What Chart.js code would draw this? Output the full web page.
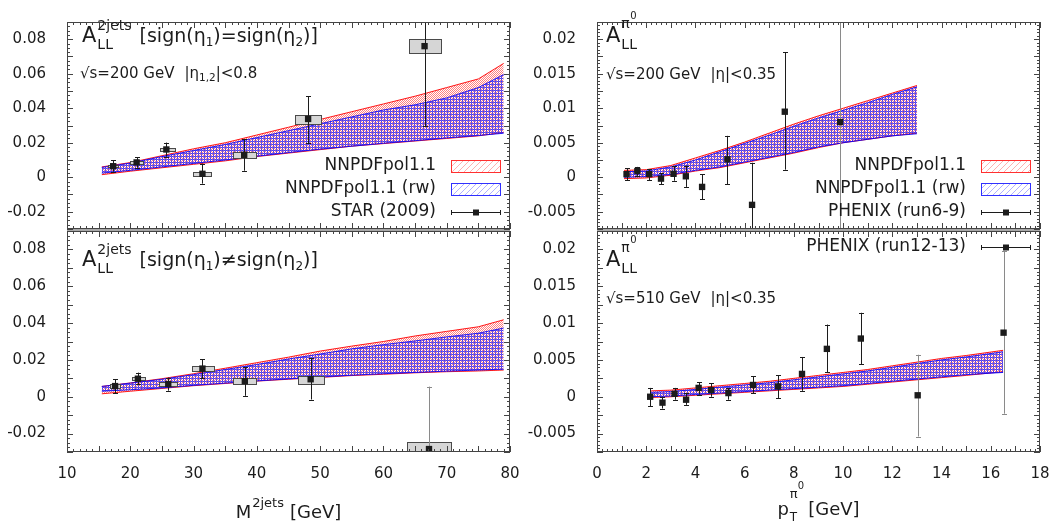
<!DOCTYPE html>
<html>
<head>
<meta charset="utf-8">
<title>A_LL dijets and pi0</title>
<script src="https://cdn.jsdelivr.net/npm/chart.js@4.4.1/dist/chart.umd.min.js"></script>
<style>
  body { margin: 0; background: #fff; }
  #wrap { position: relative; width: 1063px; height: 525px; }
  #wrap canvas { position: absolute; left: 0; top: 0; }
</style>
</head>
<body>
<div id="wrap">
  <canvas id="tl" width="1063" height="525"></canvas>
  <canvas id="bl" width="1063" height="525"></canvas>
  <canvas id="tr" width="1063" height="525"></canvas>
  <canvas id="br" width="1063" height="525"></canvas>
</div>
<script>
// ---- dijets, STAR 2009 ----
const mTicks = [10, 20, 30, 40, 50, 60, 70, 80];
const ljTicks = [-0.02, 0, 0.02, 0.04, 0.06, 0.08];
const ljBandM = [15.5, 20, 25, 30, 35, 40, 45, 50, 55, 60, 65, 70, 75, 79];

// same-sign (top left)
const tlM      = [17.3, 21.0, 25.7, 31.4, 38.0, 48.1, 66.5];
const tlA      = [0.0064, 0.0086, 0.0161, 0.0020, 0.0130, 0.0338, 0.0760];
const tlErrLo  = [0.0033, 0.0055, 0.0120, -0.0037, 0.0038, 0.0197, 0.0296];
const tlErrHi  = [0.0100, 0.0115, 0.0201, 0.0079, 0.0219, 0.0471, 0.1200];
const tlSysM0  = [16.5, 20.0, 24.7, 29.9, 36.2, 46.0, 64.0];
const tlSysM1  = [18.1, 22.0, 27.0, 32.8, 39.8, 50.2, 69.1];
const tlSysLo  = [0.0057, 0.0077, 0.0150, 0.0010, 0.0111, 0.0310, 0.0718];
const tlSysHi  = [0.0071, 0.0095, 0.0172, 0.0030, 0.0146, 0.0362, 0.0804];
const tlRedHi  = [0.0060, 0.0085, 0.0125, 0.0165, 0.0200, 0.0245, 0.0290, 0.0335, 0.0380, 0.0425, 0.0470, 0.0520, 0.0570, 0.0660];
const tlRedLo  = [0.0015, 0.0035, 0.0055, 0.0075, 0.0095, 0.0120, 0.0140, 0.0160, 0.0180, 0.0195, 0.0210, 0.0225, 0.0240, 0.0260];
const tlBlueHi = [0.0057, 0.0082, 0.0120, 0.0155, 0.0190, 0.0230, 0.0270, 0.0310, 0.0350, 0.0390, 0.0420, 0.0460, 0.0520, 0.0595];
const tlBlueLo = [0.0024, 0.0040, 0.0060, 0.0080, 0.0100, 0.0122, 0.0143, 0.0163, 0.0180, 0.0197, 0.0212, 0.0228, 0.0242, 0.0255];

// opposite-sign (bottom left)
const blM      = [17.6, 21.2, 26.0, 31.4, 38.1, 48.5, 67.2];
const blA      = [0.0058, 0.0098, 0.0069, 0.0153, 0.0085, 0.0095, -0.0284];
const blErrLo  = [0.0018, 0.0067, 0.0033, 0.0100, 0.0005, -0.0015, -0.0650];
const blErrHi  = [0.0096, 0.0131, 0.0104, 0.0204, 0.0160, 0.0209, 0.0055];
const blSysM0  = [16.8, 20.2, 24.6, 29.7, 36.3, 46.5, 63.8];
const blSysM1  = [18.4, 22.3, 27.4, 33.2, 39.8, 50.6, 70.7];
const blSysLo  = [0.0049, 0.0090, 0.0058, 0.0142, 0.0069, 0.0069, -0.0330];
const blSysHi  = [0.0067, 0.0106, 0.0080, 0.0166, 0.0104, 0.0113, -0.0247];
const blRedHi  = [0.0056, 0.0075, 0.0098, 0.0125, 0.0155, 0.0185, 0.0215, 0.0248, 0.0275, 0.0300, 0.0330, 0.0355, 0.0380, 0.0418];
const blRedLo  = [0.0016, 0.0030, 0.0045, 0.0060, 0.0072, 0.0085, 0.0095, 0.0105, 0.0115, 0.0122, 0.0130, 0.0136, 0.0140, 0.0145];
const blBlueHi = [0.0056, 0.0074, 0.0095, 0.0120, 0.0148, 0.0175, 0.0205, 0.0232, 0.0260, 0.0283, 0.0303, 0.0325, 0.0345, 0.0373];
const blBlueLo = [0.0030, 0.0038, 0.0048, 0.0062, 0.0074, 0.0086, 0.0097, 0.0107, 0.0117, 0.0125, 0.0132, 0.0139, 0.0145, 0.0150];

// ---- pi0, PHENIX ----
const ptTicks = [0, 2, 4, 6, 8, 10, 12, 14, 16, 18];
const piTicks = [-0.005, 0, 0.005, 0.01, 0.015, 0.02];

// run6-9, 200 GeV (top right)
const trPt     = [1.20, 1.64, 2.12, 2.60, 3.11, 3.61, 4.27, 5.30, 6.30, 7.63, 9.88];
const trA      = [0.00045, 0.0009, 0.00045, -0.0002, 0.0005, 0.00014, -0.0014, 0.0026, -0.0040, 0.0095, 0.0080];
const trErrLo  = [-0.0004, 0.0002, -0.0004, -0.0010, -0.0005, -0.0014, -0.0032, -0.0010, -0.0105, 0.0011, -0.0220];
const trErrHi  = [0.0013, 0.0015, 0.0012, 0.0006, 0.0016, 0.0017, 0.00045, 0.0060, 0.0021, 0.0181, 0.0380];
const trBandPt = [1.1, 2, 3, 4, 5, 6, 7, 8, 9, 10, 11, 12, 13];
const trRedHi  = [0.0010, 0.0011, 0.0017, 0.0028, 0.0039, 0.0051, 0.0064, 0.0077, 0.0089, 0.0100, 0.0111, 0.0122, 0.0133];
const trRedLo  = [-0.0002, -0.0001, 0.0003, 0.0009, 0.0014, 0.0021, 0.0028, 0.0035, 0.0043, 0.0050, 0.0055, 0.0060, 0.0064];
const trBlueHi = [0.0008, 0.0009, 0.0015, 0.0025, 0.0037, 0.0049, 0.0061, 0.0074, 0.0086, 0.0097, 0.0108, 0.0120, 0.0131];
const trBlueLo = [0.0000, 0.0001, 0.0004, 0.0010, 0.0015, 0.0022, 0.0029, 0.0036, 0.0044, 0.0050, 0.0055, 0.0060, 0.0063];

// run12-13, 510 GeV (bottom right)
const brPt     = [2.16, 2.66, 3.15, 3.62, 4.13, 4.64, 5.34, 6.34, 7.36, 8.33, 9.34, 10.72, 13.03, 16.52];
const brA      = [0.0000, -0.0008, 0.0004, -0.0004, 0.0012, 0.0009, 0.0005, 0.0016, 0.0014, 0.0031, 0.0065, 0.0079, 0.0002, 0.0087];
const brErrLo  = [-0.0013, -0.0016, -0.0004, -0.0011, 0.0003, 0.0000, -0.0004, 0.0005, -0.0002, 0.0008, 0.0033, 0.0044, -0.0054, -0.0023];
const brErrHi  = [0.0012, 0.0000, 0.0012, 0.0005, 0.0020, 0.0018, 0.0012, 0.0028, 0.0029, 0.0054, 0.0098, 0.0114, 0.0057, 0.0198];
const brBandPt = [2.2, 3, 4, 5, 6, 7, 8, 9, 10, 11, 12, 13, 14, 15, 16.5];
const brRedHi  = [0.0008, 0.0009, 0.0012, 0.0015, 0.0018, 0.0021, 0.0025, 0.0029, 0.0033, 0.0037, 0.0042, 0.0047, 0.0052, 0.0056, 0.0063];
const brRedLo  = [-0.0001, 0.0000, 0.0002, 0.0004, 0.0006, 0.0008, 0.0010, 0.0012, 0.0014, 0.0017, 0.0020, 0.0023, 0.0026, 0.0029, 0.0034];
const brBlueHi = [0.0006, 0.0007, 0.0010, 0.0013, 0.0016, 0.0019, 0.0023, 0.0027, 0.0031, 0.0035, 0.0040, 0.0045, 0.0050, 0.0054, 0.0061];
const brBlueLo = [0.0000, 0.0001, 0.0003, 0.0005, 0.0007, 0.0009, 0.0011, 0.0013, 0.0015, 0.0018, 0.0021, 0.0024, 0.0027, 0.0030, 0.0033];

const FONT = '"DejaVu Sans", "Liberation Sans", sans-serif';
const INK = '#1c1c1c';
const W = 1063, H = 525;

function tile(size, color, cells) {
  const c = document.createElement('canvas');
  c.width = c.height = size;
  const g = c.getContext('2d');
  g.fillStyle = color;
  cells.forEach(([x, y]) => g.fillRect(x, y, 1, 1));
  return g.createPattern(c, 'repeat');
}
const redPat  = tile(2, 'rgba(255,0,0,0.5)', [[0, 0], [1, 1]]);
const bluePat = tile(3, 'rgba(20,20,255,0.68)', [[0, 0], [1, 0], [2, 0], [0, 1], [0, 2]]);
const diag = [0, 1, 2, 3, 4, 5].map(i => [i, 5 - i]);
const redHatch  = tile(6, 'rgba(255,60,60,0.4)', diag);
const blueHatch = tile(6, 'rgba(60,60,255,0.4)', diag);

const zip = (xs, ys) => xs.map((x, i) => ({ x, y: ys[i] }));
const fmt = v => String(+v.toFixed(4));

// draws a run of text pieces; {stack:[[t,size,dy,dx]]} pieces sit on top of each other
function rich(ctx, x, y, segs, dry) {
  ctx.textAlign = 'left';
  ctx.textBaseline = 'alphabetic';
  for (const s of segs) {
    if (s.gap) { x += s.gap; continue; }
    if (s.stack) {
      let w = 0;
      for (const [t, size, dy, dx] of s.stack) {
        ctx.font = size + 'px ' + FONT;
        if (!dry) ctx.fillText(t, x + (dx || 0), y + dy);
        w = Math.max(w, (dx || 0) + ctx.measureText(t).width);
      }
      x += w;
      continue;
    }
    const [t, size, dy] = s;
    ctx.font = size + 'px ' + FONT;
    if (!dry) ctx.fillText(t, x, y + (dy || 0));
    x += ctx.measureText(t).width;
  }
  return x;
}
function richCentered(ctx, cx, y, segs) {
  const w = rich(ctx, 0, y, segs, true);
  rich(ctx, cx - w / 2, y, segs);
}

function legend(ctx, a, rows) {
  const x1 = a.right - 9, x0 = x1 - 50;
  ctx.save();
  ctx.fillStyle = INK;
  ctx.font = '17px ' + FONT;
  ctx.textAlign = 'right';
  ctx.textBaseline = 'middle';
  rows.forEach(r => {
    ctx.fillText(r.label, x0 - 15, r.y);
    if (r.kind === 'data') {
      ctx.strokeStyle = INK; ctx.lineWidth = 1;
      ctx.beginPath();
      ctx.moveTo(x0, r.y + 0.5); ctx.lineTo(x1, r.y + 0.5);
      ctx.moveTo(x0 + 0.5, r.y - 2); ctx.lineTo(x0 + 0.5, r.y + 3);
      ctx.moveTo(x1 - 0.5, r.y - 2); ctx.lineTo(x1 - 0.5, r.y + 3);
      ctx.stroke();
      ctx.fillRect((x0 + x1) / 2 - 3, r.y - 2.5, 6, 6);
    } else {
      const red = r.kind === 'red';
      ctx.fillStyle = red ? redHatch : blueHatch;
      ctx.fillRect(x0, r.y - 5, x1 - x0, 11);
      ctx.strokeStyle = red ? '#ff3030' : '#3030ff';
      ctx.lineWidth = 1;
      ctx.strokeRect(x0 + 0.5, r.y - 5.5, x1 - x0 - 1, 12);
      ctx.fillStyle = INK;
    }
  });
  ctx.restore();
}

function panel(id, p) {
  const xH = p.xLabels ? 60 : 0;
  const yW = 80;
  const a = p.area;

  const frame = {
    id: 'frame',
    beforeDatasetDraw(chart, args) {
      if (args.index !== 4) return;
      const { ctx, chartArea: ca, scales: { x, y } } = chart;
      ctx.save();
      ctx.beginPath();
      ctx.rect(ca.left, ca.top, ca.right - ca.left, ca.bottom - ca.top);
      ctx.clip();
      // systematic boxes
      if (p.sysM0) {
        p.sysM0.forEach((m0, i) => {
          const xa = Math.round(x.getPixelForValue(m0)) + 0.5;
          const xb = Math.round(x.getPixelForValue(p.sysM1[i])) + 0.5;
          const ya = Math.round(y.getPixelForValue(p.sysHi[i])) + 0.5;
          const yb = Math.round(y.getPixelForValue(p.sysLo[i])) + 0.5;
          ctx.fillStyle = '#d6d6d6';
          ctx.fillRect(xa, ya, xb - xa, yb - ya);
          ctx.strokeStyle = '#4a4a4a';
          ctx.lineWidth = 1;
          ctx.strokeRect(xa, ya, xb - xa, yb - ya);
        });
      }
      // statistical error bars
      p.px.forEach((v, i) => {
        const px = Math.round(x.getPixelForValue(v)) + 0.5;
        const y0 = y.getPixelForValue(p.errLo[i]);
        const y1 = y.getPixelForValue(p.errHi[i]);
        ctx.strokeStyle = (p.greyBars || []).includes(i) ? '#8a8a8a' : INK;
        ctx.lineWidth = 1;
        ctx.beginPath();
        ctx.moveTo(px, y0); ctx.lineTo(px, y1);
        ctx.moveTo(px - 2.5, Math.round(y0) + 0.5); ctx.lineTo(px + 2.5, Math.round(y0) + 0.5);
        ctx.moveTo(px - 2.5, Math.round(y1) + 0.5); ctx.lineTo(px + 2.5, Math.round(y1) + 0.5);
        ctx.stroke();
      });
      ctx.restore();
    },
    afterDatasetsDraw(chart) {
      const { ctx, chartArea: ca, scales: { x, y } } = chart;
      ctx.save();
      if (p.joinBelow) {
        ctx.fillStyle = '#a8a8a8';
        ctx.fillRect(ca.left, ca.bottom - 1, ca.right - ca.left, 3);
      }
      ctx.strokeStyle = '#444';
      ctx.lineWidth = 1;
      ctx.strokeRect(ca.left + 0.5, ca.top + 0.5, ca.right - ca.left - 1, ca.bottom - ca.top - 1);
      ctx.beginPath();
      const near = (v, s) => Math.abs(v / s - Math.round(v / s)) < 1e-6;
      for (let k = 0; ; k++) {
        const v = p.xMin + k * p.xMinor;
        if (v > p.xMax + 1e-9) break;
        const px = Math.round(x.getPixelForValue(v)) + 0.5;
        const len = near(v, p.xMajor) ? 6 : 3;
        ctx.moveTo(px, ca.bottom); ctx.lineTo(px, ca.bottom - len);
        ctx.moveTo(px, ca.top); ctx.lineTo(px, ca.top + len);
      }
      for (let k = 0; ; k++) {
        const v = p.yMin + k * p.yMinor;
        if (v > p.yMax + 1e-9) break;
        const py = Math.round(y.getPixelForValue(v)) + 0.5;
        const len = near(v, p.yMajor) ? 6 : 3;
        ctx.moveTo(ca.left, py); ctx.lineTo(ca.left + len, py);
        ctx.moveTo(ca.right, py); ctx.lineTo(ca.right - len, py);
      }
      ctx.stroke();
      ctx.restore();
    },
    afterDraw(chart) {
      const { ctx, chartArea: ca } = chart;
      ctx.save();
      ctx.fillStyle = INK;
      p.text(ctx, ca);
      if (p.legend) legend(ctx, ca, p.legend);
      ctx.restore();
    }
  };

  const line = (xs, ys, color, fill, order) => ({
    data: zip(xs, ys), borderColor: color, borderWidth: 1, pointRadius: 0,
    backgroundColor: fill || 'transparent', fill: fill ? '+1' : false, order
  });

  new Chart(document.getElementById(id), {
    type: 'line',
    data: {
      datasets: [
        line(p.bx, p.redHi, 'rgba(255,0,0,0.9)', redPat, 4),
        line(p.bx, p.redLo, 'rgba(255,0,0,0.9)', null, 3),
        line(p.bx, p.blueHi, 'rgba(0,0,255,0.85)', bluePat, 2),
        line(p.bx, p.blueLo, 'rgba(0,0,255,0.85)', null, 1),
        {
          data: zip(p.px, p.py), showLine: false, pointStyle: 'rect', pointRadius: 4.5,
          backgroundColor: INK, borderColor: INK, borderWidth: 0, order: 0
        }
      ]
    },
    options: {
      responsive: false,
      animation: false,
      events: [],
      layout: { padding: { left: a.left - yW, right: W - a.right, top: a.top, bottom: H - a.bottom - xH } },
      plugins: { legend: { display: false }, tooltip: { enabled: false } },
      scales: {
        x: {
          type: 'linear', min: p.xMin, max: p.xMax,
          grid: { display: false }, border: { display: false },
          ticks: { display: !!p.xLabels, color: INK, padding: 5, font: { family: FONT, size: 15 }, maxRotation: 0, callback: fmt },
          afterBuildTicks: s => { s.ticks = (p.xLabels || []).map(v => ({ value: v })); },
          afterFit: s => { s.height = xH; }
        },
        y: {
          type: 'linear', min: p.yMin, max: p.yMax,
          grid: { display: false }, border: { display: false },
          ticks: { color: INK, padding: p.yPad, font: { family: FONT, size: 15 }, callback: fmt },
          afterBuildTicks: s => { s.ticks = p.yLabels.map(v => ({ value: v })); },
          afterFit: s => { s.width = yW; }
        }
      }
    },
    plugins: [frame]
  });
}

const leftAxes = { xMin: 10, xMax: 80, xMajor: 5, xMinor: 1, yMin: -0.03, yMax: 0.09, yMajor: 0.01, yMinor: 0.0025, yLabels: ljTicks, yPad: 13 };
const rightAxes = { xMin: 0, xMax: 18, xMajor: 1, xMinor: 0.2, yMin: -0.0075, yMax: 0.0225, yMajor: 0.0025, yMinor: 0.0005, yLabels: piTicks, yPad: 13 };

const titleJets = rel => [['A', 21], { stack: [['2jets', 14, -12, 1], ['LL', 14, 7, 1]] }, { gap: 8 },
  ['[sign(η', 19], ['1', 12, 4], [')' + rel + 'sign(η', 19], ['2', 12, 4], [')]', 19]];
const titlePi = [['A', 21], { stack: [['π', 14, -14, 1], ['0', 10, -23, 10], ['LL', 14, 7, 1]] }];
const SUB = 15;

panel('tl', Object.assign({}, leftAxes, {
  area: { left: 67, right: 510, top: 8, bottom: 229 }, joinBelow: true,
  bx: ljBandM, redHi: tlRedHi, redLo: tlRedLo, blueHi: tlBlueHi, blueLo: tlBlueLo,
  px: tlM, py: tlA, errLo: tlErrLo, errHi: tlErrHi,
  sysM0: tlSysM0, sysM1: tlSysM1, sysLo: tlSysLo, sysHi: tlSysHi,
  legend: [
    { y: 166, label: 'NNPDFpol1.1', kind: 'red' },
    { y: 189, label: 'NNPDFpol1.1 (rw)', kind: 'blue' },
    { y: 212, label: 'STAR (2009)', kind: 'data' }
  ],
  text: (ctx, ca) => {
    rich(ctx, ca.left + 15, 42, titleJets('='));
    rich(ctx, ca.left + 13, 78, [['√s=200 GeV', SUB], { gap: 10 }, ['|η', SUB], ['1,2', 10.5, 3], ['|<0.8', SUB]]);
  }
}));

panel('bl', Object.assign({}, leftAxes, {
  area: { left: 67, right: 510, top: 231, bottom: 452 },
  xLabels: mTicks,
  bx: ljBandM, redHi: blRedHi, redLo: blRedLo, blueHi: blBlueHi, blueLo: blBlueLo,
  px: blM, py: blA, errLo: blErrLo, errHi: blErrHi, greyBars: [6],
  sysM0: blSysM0, sysM1: blSysM1, sysLo: blSysLo, sysHi: blSysHi,
  text: (ctx, ca) => {
    rich(ctx, ca.left + 15, 266, titleJets('≠'));
    richCentered(ctx, (ca.left + ca.right) / 2, 518, [['M', 18], { stack: [['2jets', 13, -11, 1]] }, { gap: 6 }, ['[GeV]', 18]]);
  }
}));

panel('tr', Object.assign({}, rightAxes, {
  area: { left: 597, right: 1040, top: 8, bottom: 229 }, joinBelow: true,
  bx: trBandPt, redHi: trRedHi, redLo: trRedLo, blueHi: trBlueHi, blueLo: trBlueLo,
  px: trPt, py: trA, errLo: trErrLo, errHi: trErrHi, greyBars: [10],
  legend: [
    { y: 166, label: 'NNPDFpol1.1', kind: 'red' },
    { y: 189, label: 'NNPDFpol1.1 (rw)', kind: 'blue' },
    { y: 212, label: 'PHENIX (run6-9)', kind: 'data' }
  ],
  text: (ctx, ca) => {
    rich(ctx, ca.left + 9, 42, titlePi);
    rich(ctx, ca.left + 9, 79, [['√s=200 GeV', SUB], { gap: 10 }, ['|η|<0.35', SUB]]);
  }
}));

panel('br', Object.assign({}, rightAxes, {
  area: { left: 597, right: 1040, top: 231, bottom: 452 },
  xLabels: ptTicks,
  bx: brBandPt, redHi: brRedHi, redLo: brRedLo, blueHi: brBlueHi, blueLo: brBlueLo,
  px: brPt, py: brA, errLo: brErrLo, errHi: brErrHi, greyBars: [12, 13],
  legend: [{ y: 247, label: 'PHENIX (run12-13)', kind: 'data' }],
  text: (ctx, ca) => {
    rich(ctx, ca.left + 9, 266, titlePi);
    rich(ctx, ca.left + 9, 303, [['√s=510 GeV', SUB], { gap: 10 }, ['|η|<0.35', SUB]]);
    richCentered(ctx, (ca.left + ca.right) / 2, 515, [['p', 18], { stack: [['π', 13, -17, 1], ['0', 10, -26, 9], ['T', 12, 6, 1]] }, { gap: 4 }, ['[GeV]', 18]]);
  }
}));
</script>
</body>
</html>
